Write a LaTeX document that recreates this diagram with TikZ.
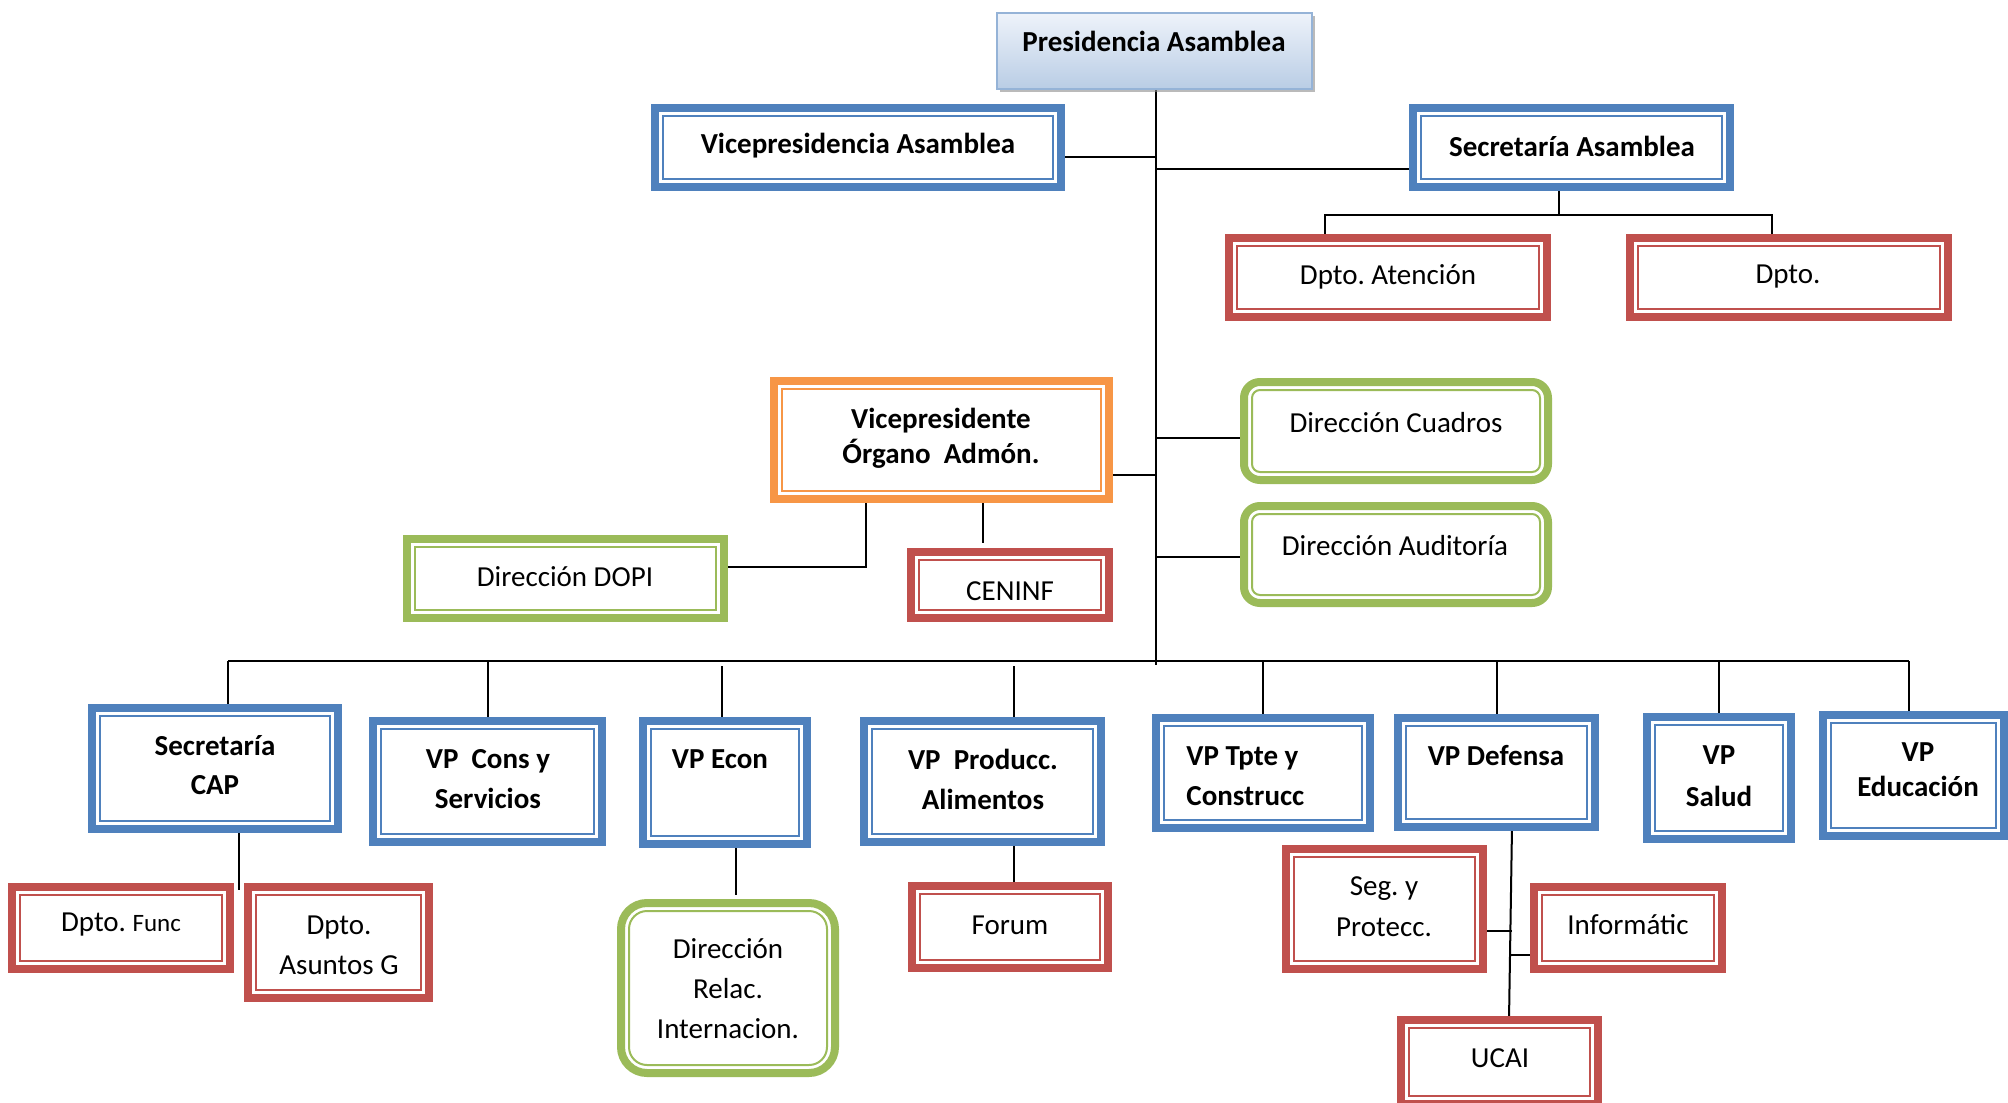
\documentclass[tikz,border=0pt]{standalone}
\usepackage{fontspec}
\setmainfont{Carlito}
\frenchspacing
\usetikzlibrary{backgrounds,shadows}
\definecolor{cblue}{HTML}{4F81BD}
\definecolor{cred}{HTML}{C0504D}
\definecolor{corange}{HTML}{F79646}
\definecolor{cgreen}{HTML}{9BBB59}
\definecolor{presb}{HTML}{95B3D7}
\definecolor{presT}{HTML}{EEF3FA}
\definecolor{presB}{HTML}{B9CDE5}
\tikzset{
  frm/.style={draw=#1, line width=4pt, fill=white, outer sep=0pt, inner sep=0pt},
  inl/.style={draw=#1, line width=1pt},
  tx/.style={font=\fontsize{14.5}{20}\selectfont, align=center, inner sep=0pt},
  bt/.style={tx, font=\bfseries\fontsize{14.5}{20}\selectfont},
  conn/.style={line width=1pt, black},
}
% #1 name, #2 colour, #3 x1, #4 y1, #5 x2, #6 y2, #7 outer radius, #8 inner radius
\newcommand\obox[8]{%
  \node[frm=#2, rounded corners=#7, minimum width={0.5pt*(#5-#3-8)}, minimum height={0.5pt*(#6-#4-8)}] (#1) at ({(#3+#5)/2},{(#4+#6)/2}) {};
  \draw[inl=#2, rounded corners=#8] ([shift={(4pt,-4pt)}]#1.north west) rectangle ([shift={(-4pt,4pt)}]#1.south east);}
\begin{document}
\begin{tikzpicture}[x=0.5pt, y=-0.5pt]
\useasboundingbox (0,0) rectangle (2008,1103);

% top box
\node[draw=presb, line width=1pt, top color=presT, bottom color=presB,
      drop shadow={shadow xshift=1.5pt, shadow yshift=-1.5pt, fill=black!45, opacity=.6},
      minimum width={0.5pt*(1313-996-2)}, minimum height={0.5pt*(90-12-2)}, outer sep=0pt] (pres) at (1154.5,51) {};

\obox{va}{cblue}{651}{104}{1065}{191}{0pt}{0pt}
\obox{sa}{cblue}{1409}{104}{1734}{191}{0pt}{0pt}
\obox{da}{cred}{1225}{234}{1551}{321}{0pt}{0pt}
\obox{dp}{cred}{1626}{234}{1952}{321}{0pt}{0pt}
\obox{vo}{corange}{770}{377}{1113}{503}{0pt}{0pt}
\obox{cen}{cred}{907}{548}{1113}{622}{0pt}{0pt}
\obox{dc}{cgreen}{1240}{378}{1552}{484}{8pt}{4pt}
\obox{dau}{cgreen}{1240}{502}{1552}{607}{8pt}{4pt}
\obox{dopi}{cgreen}{403}{535}{728}{622}{0pt}{0pt}
\obox{sc}{cblue}{88}{704}{342}{833}{0pt}{0pt}
\obox{vcs}{cblue}{369}{717}{606}{846}{0pt}{0pt}
\obox{ve}{cblue}{639}{717}{811}{848}{0pt}{0pt}
\obox{vpa}{cblue}{860}{717}{1105}{846}{0pt}{0pt}
\obox{vt}{cblue}{1152}{714}{1374}{832}{0pt}{0pt}
\obox{vd}{cblue}{1394}{714}{1599}{831}{0pt}{0pt}
\obox{vs}{cblue}{1643}{713}{1795}{843}{0pt}{0pt}
\obox{ved}{cblue}{1819}{711}{2008}{840}{0pt}{0pt}
\obox{df}{cred}{8}{883}{234}{973}{0pt}{0pt}
\obox{dag}{cred}{244}{883}{433}{1002}{0pt}{0pt}
\obox{rel}{cgreen}{617}{899}{839}{1077}{13pt}{9pt}
\obox{fo}{cred}{908}{882}{1112}{972}{0pt}{0pt}
\obox{seg}{cred}{1282}{845}{1487}{973}{0pt}{0pt}
\obox{inf}{cred}{1530}{883}{1726}{973}{0pt}{0pt}
\obox{ucai}{cred}{1397}{1016}{1602}{1108}{0pt}{0pt}

% texts
\node[bt] (t-pres) at (1154,41) {Presidencia Asamblea};
\node[bt] (t-va) at (858,146) {Vicepresidencia Asamblea};
\node[bt] (t-sa) at (1572,146) {Secretaría Asamblea};
\node[tx] (t-da) at (1388,277) {Dpto. Atención};
\node[tx] (t-dp) at (1788,277) {Dpto.};
\node[bt, font=\bfseries\fontsize{14.5}{17.5}\selectfont] (t-vo) at (941,438) {Vicepresidente\\Órgano~~Admón.};
\node[tx] (t-dc) at (1396,423) {Dirección Cuadros};
\node[tx] (t-dau) at (1395,546) {Dirección Auditoría};
\node[tx] (t-dopi) at (565,577) {Dirección DOPI};
\node[tx] (t-cen) at (1010,591) {CENINF};
\node[bt, font=\bfseries\fontsize{14.5}{19.5}\selectfont] (t-sc) at (215,765) {Secretaría\\CAP};
\node[bt] (t-vcs) at (488,779) {VP~~Cons y\\Servicios};
\node[bt] (t-ve) at (720,759) {VP Econ};
\node[bt] (t-vpa) at (983,779) {VP~~Producc.\\Alimentos};
\node[bt, align=left, anchor=west] (t-vt) at (1186,776) {VP Tpte y\\Construcc};
\node[bt] (t-vd) at (1496,756) {VP Defensa};
\node[bt, font=\bfseries\fontsize{14.5}{21}\selectfont] (t-vs) at (1719,776) {VP\\Salud};
\node[bt, font=\bfseries\fontsize{14.5}{17.5}\selectfont] (t-ved) at (1918,770) {VP\\Educación};
\node[tx] (t-df) at (121,925) {Dpto. {\fontsize{12.5}{15}\selectfont Func}};
\node[tx] (t-dag) at (339,945) {Dpto.\\Asuntos G};
\node[tx] (t-rel) at (728,989) {Dirección\\Relac.\\Internacion.};
\node[tx] (t-fo) at (1010,925) {Forum};
\node[tx, font=\fontsize{14.5}{20.5}\selectfont] (t-seg) at (1384,907) {Seg. y\\Protecc.};
\node[tx] (t-inf) at (1628,925) {Informátic};
\node[tx] (t-ucai) at (1500,1058) {UCAI};

% connectors
\begin{scope}[on background layer]
\fill[white] (0,0) rectangle (2008,1103);
\coordinate (trb) at (1156,665);
\coordinate (j1) at (1156,157);
\coordinate (j2) at (1156,169);
\coordinate (j3) at (1156,438);
\coordinate (j4) at (1156,475);
\coordinate (j5) at (1156,557);
\coordinate (s1) at (1559,215);
\coordinate (s2) at (1325,215);
\coordinate (s3) at (1772,215);
\coordinate (d1) at (866,567);
\coordinate (c1) at (983,543);
\coordinate (b0) at (228,661);
\coordinate (b1) at (1909,661);
\coordinate (b2) at (1014,666);
\coordinate (b3) at (722,666);
\coordinate (k1) at (239,890);
\coordinate (r1) at (736,895);
\coordinate (e1) at (1512,831);
\coordinate (e2) at (1509,1020);
\coordinate (e3) at (1512,931);
\coordinate (e4) at (1510,955);

\draw[conn] (pres.south -| trb) -- (trb);
\draw[conn] (va.east |- j1) -- (j1);
\draw[conn] (j2) -- (sa.west |- j2);
\draw[conn] (sa.south -| s1) -- (s1);
\draw[conn] (s2 |- da.north) -- (s2) -- (s3) -- (s3 |- dp.north);
\draw[conn] (j3) -- (dc.west |- j3);
\draw[conn] (vo.east |- j4) -- (j4);
\draw[conn] (j5) -- (dau.west |- j5);
\draw[conn] (vo.south -| d1) -- (d1) -- (dopi.east |- d1);
\draw[conn] (vo.south -| c1) -- (c1);
\draw[conn] (b0) -- (b1);
\draw[conn] (b0) -- (b0 |- sc.north);
\draw[conn] (b0 -| vcs.north) -- (vcs.north);
\draw[conn] (b3) -- (b3 |- ve.north);
\draw[conn] (b2) -- (b2 |- vpa.north);
\draw[conn] (b0 -| vt.north) -- (vt.north);
\draw[conn] (b0 -| vd.north) -- (vd.north);
\draw[conn] (b0 -| vs.north) -- (vs.north);
\draw[conn] (b1) -- (b1 |- ved.north);
\draw[conn] (sc.south -| k1) -- (k1);
\draw[conn] (ve.south -| r1) -- (r1);
\draw[conn] (vpa.south -| b2) -- (b2 |- fo.north);
\draw[conn] (vd.south -| e1) -- (e2);
\draw[conn] (seg.east |- e3) -- (e3);
\draw[conn] (e4) -- (inf.west |- e4);
\end{scope}
\end{tikzpicture}
\end{document}
